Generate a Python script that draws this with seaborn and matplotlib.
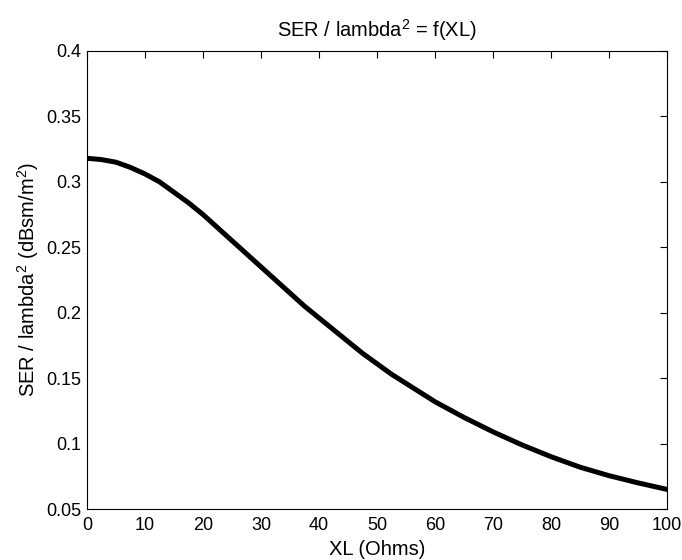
import numpy as np
import pandas as pd
import matplotlib
matplotlib.use('Agg')
import matplotlib.pyplot as plt
import seaborn as sns

# values
xl = [0, 2.5, 5, 7.5, 10, 12.5, 15, 17.5, 20, 22.5, 25, 27.5, 30, 32.5, 35,
      37.5, 40, 42.5, 45, 47.5, 50, 52.5, 55, 57.5, 60, 65, 70, 75, 80, 85, 90, 95, 100]
ser = [0.318, 0.317, 0.315, 0.311, 0.306, 0.300, 0.292, 0.284, 0.275, 0.265,
       0.255, 0.245, 0.235, 0.225, 0.215, 0.205, 0.196, 0.187, 0.178, 0.169,
       0.161, 0.153, 0.146, 0.139, 0.132, 0.120, 0.109, 0.099, 0.090, 0.082,
       0.0755, 0.070, 0.065]

df = pd.DataFrame({'XL': xl, 'SER': ser})

sns.set_style('white')
plt.rcParams['font.family'] = ['Liberation Sans', 'DejaVu Sans']
plt.rcParams['mathtext.default'] = 'regular'
plt.rcParams['text.color'] = 'black'
plt.rcParams['axes.labelcolor'] = 'black'

fig = plt.figure(figsize=(6.82, 5.6), dpi=100)
ax = fig.add_axes([0.1276, 0.091, 0.8504, 0.818])

sns.lineplot(data=df, x='XL', y='SER', color='black', lw=3.6, ax=ax)

ax.set_xlim(0, 100)
ax.set_ylim(0.05, 0.4)
ax.set_xticks(np.arange(0, 101, 10))
ax.set_yticks([0.05, 0.1, 0.15, 0.2, 0.25, 0.3, 0.35, 0.4])
ax.set_yticklabels(['0.05', '0.1', '0.15', '0.2', '0.25', '0.3', '0.35', '0.4'])
ax.tick_params(direction='in', length=5, width=0.8, top=True, right=True,
               labelsize=13, colors='black')
ax.tick_params(axis='x', pad=6)
ax.tick_params(axis='y', pad=4)
for s in ax.spines.values():
    s.set_color('black')
    s.set_linewidth(0.8)

ax.set_title('SER / lambda$^2$ = f(XL)', fontsize=14.5, pad=10, color='black')
ax.set_xlabel('XL (Ohms)', fontsize=14.5, labelpad=4)
ax.set_ylabel('SER / lambda$^2$ (dBsm/m$^2$)', fontsize=14.5, labelpad=4)

plt.savefig('out.png', dpi=100)
plt.close()
